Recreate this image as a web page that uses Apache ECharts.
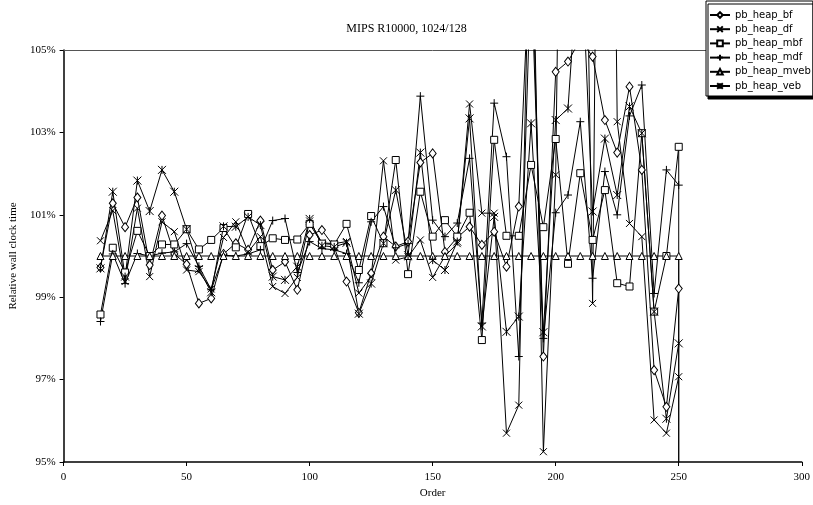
<!DOCTYPE html>
<html><head><meta charset="utf-8">
<script src="https://cdn.jsdelivr.net/npm/echarts@6/dist/echarts.min.js"></script>
<style>html,body{margin:0;padding:0;background:#fff}#c{width:813px;height:505px}</style>
</head><body><div id="c"></div>
<script>
const orders = [15,20,25,30,35,40,45,50,55,60,65,70,75,80,85,90,95,100,105,110,115,120,125,130,135,140,145,150,155,160,165,170,175,180,185,190,195,200,205,210,215,220,225,230,235,240,245,250];

const bf = [99.72,101.28,100.70,101.42,99.78,100.98,100.05,99.80,98.85,98.97,100.05,100.31,100.15,100.86,99.66,99.86,99.18,100.51,100.63,100.22,99.38,98.62,99.58,100.47,100.23,100.35,102.27,102.49,100.10,100.45,100.71,100.27,100.59,99.74,101.20,108.0,97.56,104.47,104.72,105.25,104.84,103.30,102.51,104.11,102.09,97.23,96.34,99.21];

const df = [100.37,101.10,99.38,101.16,99.50,100.83,100.59,99.66,99.62,99.20,100.45,100.83,100.10,100.47,99.26,99.09,99.48,100.85,100.32,100.30,100.35,99.10,99.50,102.31,99.90,99.98,100.39,99.48,100.00,100.30,103.69,101.04,101.04,95.70,96.38,110.0,95.25,101.97,125.0,118.0,98.85,130.0,103.26,100.79,100.47,96.02,95.70,97.07];

const mbf = [98.58,100.20,99.60,100.61,100.00,100.28,100.28,100.65,100.16,100.39,100.68,100.21,101.02,100.24,100.43,100.39,100.40,100.78,100.30,100.28,100.78,99.66,100.97,100.31,102.33,99.56,101.56,100.47,100.87,100.47,101.05,97.96,102.82,100.49,100.49,102.21,100.70,102.84,99.81,102.01,100.39,101.60,99.34,99.26,102.98,98.65,100.00,102.65];

const mdf = [98.41,100.05,99.33,100.06,100.00,100.07,100.10,100.30,99.75,99.18,100.02,100.00,100.05,100.15,100.86,100.91,99.60,100.35,100.18,100.15,100.06,99.35,100.83,101.20,100.20,100.30,103.88,100.87,100.47,100.80,102.37,98.37,103.71,102.41,97.56,107.0,98.00,101.05,101.48,103.26,99.46,102.05,101.00,103.40,104.15,99.09,102.09,101.72];

const mveb = [100,100,100,100,100,100,100,100,100,100,100,100,100,100,100,100,100,100,100,100,100,100,100,100,100,100,100,100,100,100,100,100,100,100,100,100,100,100,100,100,100,100,100,100,100,100,100,100];

const veb = [99.70,101.56,99.50,101.83,101.09,102.09,101.56,100.65,99.68,99.12,100.72,100.71,100.95,100.75,99.50,99.42,99.74,100.90,100.25,100.22,100.32,98.60,99.33,100.31,101.60,100.02,102.51,99.90,99.66,100.35,103.34,98.29,100.95,98.16,98.53,103.22,98.15,103.30,103.58,108.0,101.08,102.85,101.48,103.63,102.98,98.65,96.05,97.88];

// trailing points (drawn as the vertical drop at order 250)
const tailOrders = [250];
const mbfTail = [0];
const mvebTail = [0];

const seriesNames = ['pb_heap_bf','pb_heap_df','pb_heap_mbf','pb_heap_mdf','pb_heap_mveb','pb_heap_veb'];
const yMin = 95, yMax = 105, yStep = 2;
const xMin = 0, xMax = 300, xStep = 50;

function pts(xs, ys, tx, ty) {
  const out = xs.map((x, i) => [x, ys[i]]);
  if (tx) tx.forEach((x, i) => out.push([x, ty[i]]));
  return out;
}

const symX = 'path://M0,0L10,10M10,0L0,10';
const symPlus = 'path://M5,0L5,10M0,5L10,5';
const symStar = 'path://M0,0L10,10M10,0L0,10M5,0L5,10';

const defs = [
  {data: pts(orders, bf), symbol: 'diamond', size: [7, 9]},
  {data: pts(orders, df), symbol: symX, size: 7},
  {data: pts(orders, mbf, tailOrders, mbfTail), symbol: 'rect', size: 7},
  {data: pts(orders, mdf), symbol: symPlus, size: 8},
  {data: pts(orders, mveb, tailOrders, mvebTail), symbol: 'triangle', size: 7},
  {data: pts(orders, veb), symbol: symStar, size: 8}
];

const serif = 'Liberation Serif';
const chart = echarts.init(document.getElementById('c'), null, {renderer: 'canvas'});
chart.setOption({
  animation: false,
  backgroundColor: '#fff',
  title: {
    text: 'MIPS R10000, 1024/128', left: 'center', top: 18,
    textStyle: {fontFamily: serif, fontSize: 12, fontWeight: 'normal', color: '#000'}
  },
  legend: {
    orient: 'vertical', left: 706, top: 1,
    padding: [9, 2, 5, 3], itemGap: 4.2, itemWidth: 20, itemHeight: 7,
    backgroundColor: '#fff', borderColor: '#000', borderWidth: 1,
    shadowColor: '#000', shadowOffsetX: 2, shadowOffsetY: 3, shadowBlur: 0,
    textStyle: {fontFamily: 'DejaVu Sans', fontSize: 10, color: '#000'},
    data: seriesNames
  },
  grid: {left: 62, right: 9, top: 50, bottom: 43, containLabel: false},
  xAxis: [{
    type: 'value', min: xMin, max: xMax, interval: xStep,
    name: 'Order', nameLocation: 'middle', nameGap: 26,
    nameTextStyle: {fontFamily: serif, fontSize: 11, color: '#000'},
    axisLine: {show: true, lineStyle: {color: '#000', width: 1.5}},
    axisTick: {show: true, inside: false, length: 4, lineStyle: {color: '#000'}},
    axisLabel: {fontFamily: serif, fontSize: 11, color: '#000', margin: 10},
    splitLine: {show: false}
  }, {
    type: 'value', min: xMin, max: xMax, position: 'top',
    axisLine: {show: true, lineStyle: {color: '#555', width: 1}},
    axisTick: {show: false}, axisLabel: {show: false}, splitLine: {show: false}
  }],
  yAxis: {
    type: 'value', min: yMin, max: yMax, interval: yStep,
    name: 'Relative wall clock time', nameLocation: 'middle', nameGap: 42, nameRotate: 90,
    nameTextStyle: {fontFamily: serif, fontSize: 11, color: '#000'},
    axisLine: {show: true, lineStyle: {color: '#000', width: 1.5}},
    axisTick: {show: true, inside: false, length: 4, lineStyle: {color: '#000'}},
    axisLabel: {fontFamily: serif, fontSize: 11, color: '#000', margin: 8, formatter: '{value}%'},
    splitLine: {show: false}
  },
  series: defs.map((d, i) => ({
    name: seriesNames[i], type: 'line', xAxisIndex: 0,
    data: d.data, symbol: d.symbol, symbolSize: d.size, showSymbol: true,
    clip: true,
    lineStyle: {color: '#000', width: 1},
    itemStyle: {color: '#fff', borderColor: '#000', borderWidth: 1},
    emphasis: {disabled: true}
  }))
});
</script></body></html>
